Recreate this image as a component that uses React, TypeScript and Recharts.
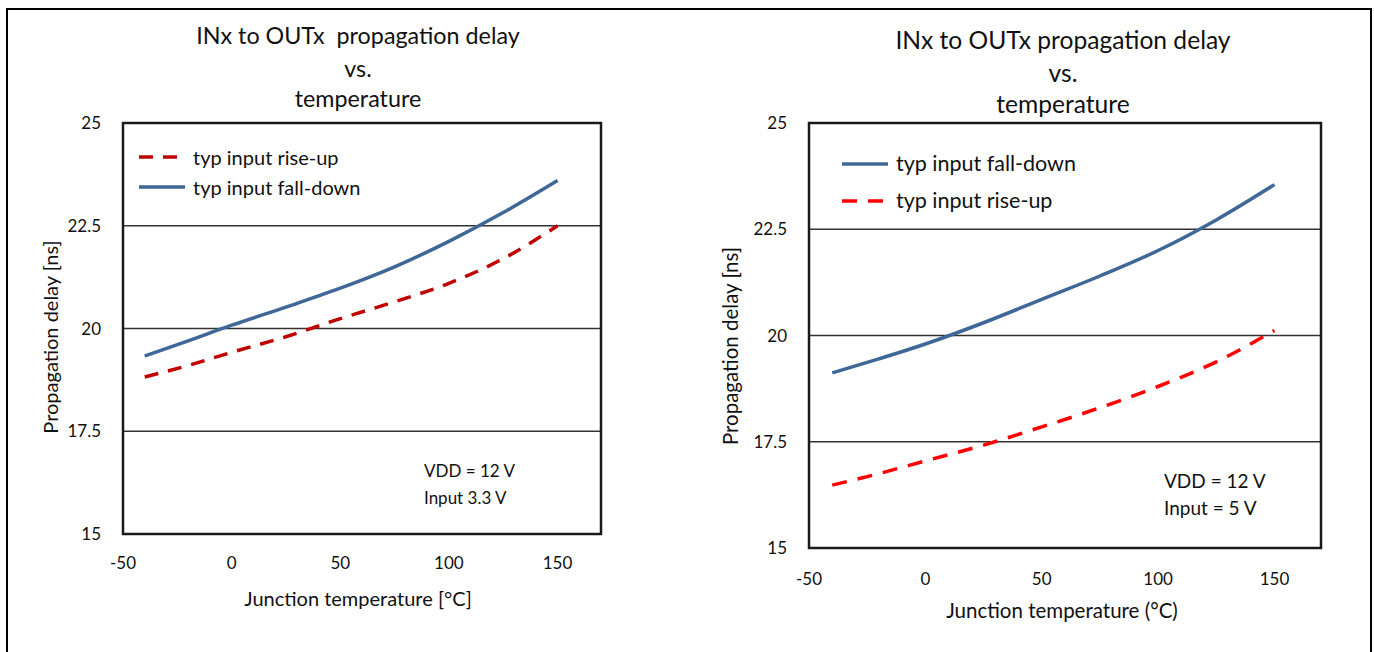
import React from 'react'
import {
  LineChart,
  Line,
  XAxis,
  YAxis,
  CartesianGrid,
  ReferenceArea,
} from 'recharts'

// junction temperature samples (°C)
const temps = [-40, -20, 0, 25, 50, 75, 100, 125, 150]

// left chart: input 3.3 V
const leftFall = [19.33, 19.7, 20.08, 20.52, 20.98, 21.5, 22.12, 22.82, 23.6]
const leftRise = [18.82, 19.1, 19.42, 19.8, 20.24, 20.65, 21.1, 21.7, 22.5]

// right chart: input 5 V
const rightFall = [19.12, 19.45, 19.8, 20.3, 20.85, 21.4, 22.0, 22.72, 23.55]
const rightRise = [16.48, 16.75, 17.05, 17.42, 17.85, 18.3, 18.8, 19.38, 20.12]

const xTicks = [-50, 0, 50, 100, 150]
const yTicks = [15, 17.5, 20, 22.5, 25]

const FONT = 'Lato, "Noto Sans", sans-serif'
const BLUE = '#3F6797'

const buildRows = (fall: number[], rise: number[]) =>
  temps.map((t, i) => ({ t, fall: fall[i], rise: rise[i] }))

interface LegendItem {
  label: string
  color: string
  dash?: string
}

function LegendBox({
  x,
  y,
  items,
  gap,
  fontSize,
}: {
  x: number
  y: number
  items: LegendItem[]
  gap: number
  fontSize: number
}) {
  return (
    <div style={{ position: 'absolute', left: x, top: y, fontFamily: FONT, fontSize, color: '#111' }}>
      {items.map((it) => (
        <div key={it.label} style={{ display: 'flex', alignItems: 'center', height: gap, lineHeight: 1 }}>
          <svg width={48} height={10} style={{ marginRight: 6 }}>
            <line
              x1={0}
              y1={5}
              x2={46}
              y2={5}
              stroke={it.color}
              strokeWidth={3.5}
              strokeDasharray={it.dash}
            />
          </svg>
          <span>{it.label}</span>
        </div>
      ))}
    </div>
  )
}

function Txt({
  x,
  y,
  size,
  children,
  align = 'center',
}: {
  x: number
  y: number
  size: number
  children: React.ReactNode
  align?: 'center' | 'left'
}) {
  const tx = align === 'center' ? '-50%' : '0'
  return (
    <div
      style={{
        position: 'absolute',
        left: x,
        top: y,
        transform: `translate(${tx}, -50%)`,
        fontFamily: FONT,
        fontSize: size,
        color: '#111',
        whiteSpace: 'pre',
        lineHeight: 1,
      }}
    >
      {children}
    </div>
  )
}

export default function App() {
  const leftData = buildRows(leftFall, leftRise)
  const rightData = buildRows(rightFall, rightRise)

  const tickStyle = { fontSize: 17, fill: '#111', fontFamily: FONT }

  return (
    <div
      style={{
        position: 'absolute',
        left: 0,
        top: 0,
        width: 1374,
        height: 652,
        background: '#fff',
        overflow: 'hidden',
      }}
    >
      {/* outer frame */}
      <div
        style={{
          position: 'absolute',
          left: 6,
          top: 8,
          width: 1362,
          height: 700,
          borderTop: '2px solid #000',
          borderLeft: '2px solid #000',
          borderRight: '2px solid #000',
        }}
      />

      {/* left chart */}
      <div style={{ position: 'absolute', left: 0, top: 0 }}>
        <LineChart
          width={690}
          height={652}
          data={leftData}
          margin={{ top: 123, left: 63, right: 89, bottom: 58 }}
        >
          <CartesianGrid vertical={false} stroke="#333" strokeWidth={1.5} />
          <XAxis
            dataKey="t"
            type="number"
            domain={[-50, 170]}
            ticks={xTicks}
            axisLine={false}
            tickLine={false}
            tickSize={0}
            tickMargin={23}
            height={60}
            tick={tickStyle}
          />
          <YAxis
            type="number"
            domain={[15, 25]}
            ticks={yTicks}
            axisLine={false}
            tickLine={false}
            tickSize={0}
            tickMargin={22}
            width={60}
            tick={tickStyle}
          />
          <Line
            type="monotone"
            dataKey="rise"
            stroke="#C00000"
            strokeWidth={3.5}
            strokeDasharray="14 10"
            dot={false}
            isAnimationActive={false}
          />
          <Line
            type="monotone"
            dataKey="fall"
            stroke={BLUE}
            strokeWidth={3.5}
            dot={false}
            isAnimationActive={false}
          />
          <ReferenceArea
            x1={-50}
            x2={170}
            y1={15}
            y2={25}
            fill="none"
            stroke="#1a1a1a"
            strokeWidth={2.5}
            ifOverflow="visible"
          />
        </LineChart>
      </div>

      {/* right chart */}
      <div style={{ position: 'absolute', left: 690, top: 0 }}>
        <LineChart
          width={684}
          height={652}
          data={rightData}
          margin={{ top: 123, left: 59, right: 53, bottom: 44 }}
        >
          <CartesianGrid vertical={false} stroke="#333" strokeWidth={1.5} />
          <XAxis
            dataKey="t"
            type="number"
            domain={[-50, 170]}
            ticks={xTicks}
            axisLine={false}
            tickLine={false}
            tickSize={0}
            tickMargin={25}
            height={60}
            tick={tickStyle}
          />
          <YAxis
            type="number"
            domain={[15, 25]}
            ticks={yTicks}
            axisLine={false}
            tickLine={false}
            tickSize={0}
            tickMargin={22}
            width={60}
            tick={tickStyle}
          />
          <Line
            type="monotone"
            dataKey="fall"
            stroke={BLUE}
            strokeWidth={3.5}
            dot={false}
            isAnimationActive={false}
          />
          <Line
            type="monotone"
            dataKey="rise"
            stroke="#FF0000"
            strokeWidth={3.5}
            strokeDasharray="15 11"
            dot={false}
            isAnimationActive={false}
          />
          <ReferenceArea
            x1={-50}
            x2={170}
            y1={15}
            y2={25}
            fill="none"
            stroke="#1a1a1a"
            strokeWidth={2.5}
            ifOverflow="visible"
          />
        </LineChart>
      </div>

      {/* legends */}
      <LegendBox
        x={139}
        y={142}
        gap={30}
        fontSize={20}
        items={[
          { label: 'typ input rise-up', color: '#C00000', dash: '14 10' },
          { label: 'typ input fall-down', color: BLUE },
        ]}
      />
      <LegendBox
        x={842}
        y={145}
        gap={37}
        fontSize={21.5}
        items={[
          { label: 'typ input fall-down', color: BLUE },
          { label: 'typ input rise-up', color: '#FF0000', dash: '15 11' },
        ]}
      />

      {/* titles */}
      <Txt x={358} y={36} size={23.3}>{'INx to OUTx  propagation delay'}</Txt>
      <Txt x={358} y={69} size={23.3}>vs.</Txt>
      <Txt x={358} y={99} size={23.3}>temperature</Txt>

      <Txt x={1063} y={40} size={24.6}>INx to OUTx propagation delay</Txt>
      <Txt x={1063} y={73} size={24.6}>vs.</Txt>
      <Txt x={1063} y={104} size={24.6}>temperature</Txt>

      {/* axis titles */}
      <Txt x={50} y={337} size={20}>
        <span style={{ display: 'inline-block', transform: 'rotate(-90deg)' }}>Propagation delay [ns]</span>
      </Txt>
      <Txt x={358} y={598} size={20}>Junction temperature [°C]</Txt>

      <Txt x={730} y={346} size={20.5}>
        <span style={{ display: 'inline-block', transform: 'rotate(-90deg)' }}>Propagation delay [ns]</span>
      </Txt>
      <Txt x={1062} y={610} size={20.5}>Junction temperature (°C)</Txt>

      {/* conditions */}
      <Txt x={424} y={470} size={17} align="left">VDD = 12 V</Txt>
      <Txt x={424} y={497} size={17} align="left">Input 3.3 V</Txt>

      <Txt x={1164} y={480} size={19} align="left">VDD = 12 V</Txt>
      <Txt x={1164} y={507} size={19} align="left">Input = 5 V</Txt>
    </div>
  )
}
